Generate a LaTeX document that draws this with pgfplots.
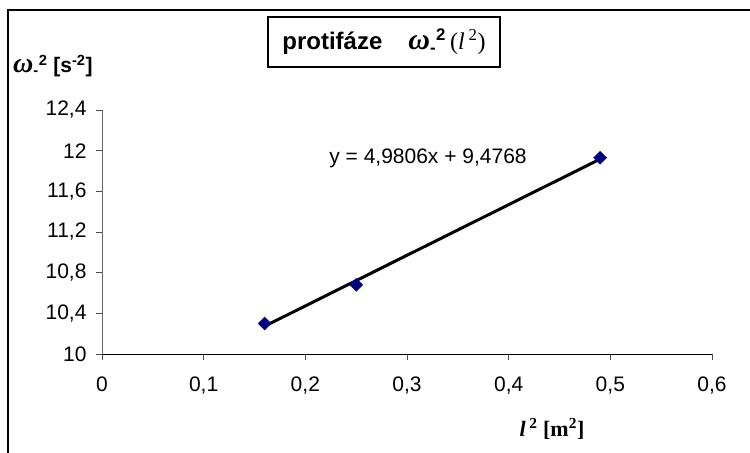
\documentclass[border=0pt]{standalone}
\usepackage{fontspec}
\setmainfont{Liberation Sans}
\newfontfamily\tnr{Liberation Serif}
\usepackage{pgfplots}
\pgfplotsset{compat=1.18}
\definecolor{navy}{RGB}{0,0,128}
\newcommand{\om}[1]{{\fontsize{#1}{#1}\selectfont\tnr\bfseries\itshape ω}}
\begin{document}
\begin{tikzpicture}
\useasboundingbox (0,0) rectangle (750bp,-453bp);
\draw[line width=1.5bp] (8bp,-453bp) -- (8bp,-10bp) -- (750bp,-10bp);
\begin{axis}[
  at={(102bp,-354bp)}, anchor=south west,
  scale only axis, width=610bp, height=244bp,
  xmin=0, xmax=0.6, ymin=10, ymax=12.4,
  axis x line=bottom, axis y line=left,
  x axis line style={-, draw=black, line width=1bp},
  y axis line style={-, draw=black!60, line width=1bp},
  xtick={0,0.1,0.2,0.3,0.4,0.5,0.6},
  xticklabels={0,{0,1},{0,2},{0,3},{0,4},{0,5},{0,6}},
  ytick={10,10.4,10.8,11.2,11.6,12,12.4},
  yticklabels={10,{10,4},{10,8},{11,2},{11,6},12,{12,4}},
  tick align=outside, major tick length=6bp,
  tick style={draw=black!70, line width=0.8bp},
  tick label style={font=\fontsize{21bp}{25bp}\selectfont},
  yticklabel style={xshift=-6bp},
  xticklabel style={yshift=-13bp},
  clip=false,
]
\addplot[only marks, mark=square*, mark size=4.6bp,
  mark options={rotate=45, fill=navy, draw=navy}]
  coordinates {(0.16,10.30) (0.25,10.68) (0.49,11.93)};
\addplot[line width=3bp, black] coordinates {(0.16,10.2737) (0.49,11.9173)};
\end{axis}
\node[draw, line width=1.3bp, minimum width=232bp, minimum height=50bp]
  at (384bp,-42bp) {\fontsize{24bp}{28bp}\selectfont\bfseries protifáze\hspace{26bp}\om{30bp}\textsubscript{-}\textsuperscript{2}\,{\tnr\mdseries(\textit{l}\,\textsuperscript{2})}};
\node at (428bp,-158bp) {\fontsize{21bp}{25bp}\selectfont y = 4,9806x + 9,4768};
\node[anchor=west, inner sep=0pt] at (13bp,-66bp) {\fontsize{21bp}{25bp}\selectfont\bfseries\om{28bp}\textsubscript{-}\textsuperscript{2} [s\textsuperscript{-2}]};
\node[inner sep=0pt] at (552bp,-429bp) {\fontsize{22bp}{25bp}\selectfont\tnr\bfseries\textit{l}\,\textsuperscript{2} [m\textsuperscript{2}]};
\end{tikzpicture}
\end{document}
